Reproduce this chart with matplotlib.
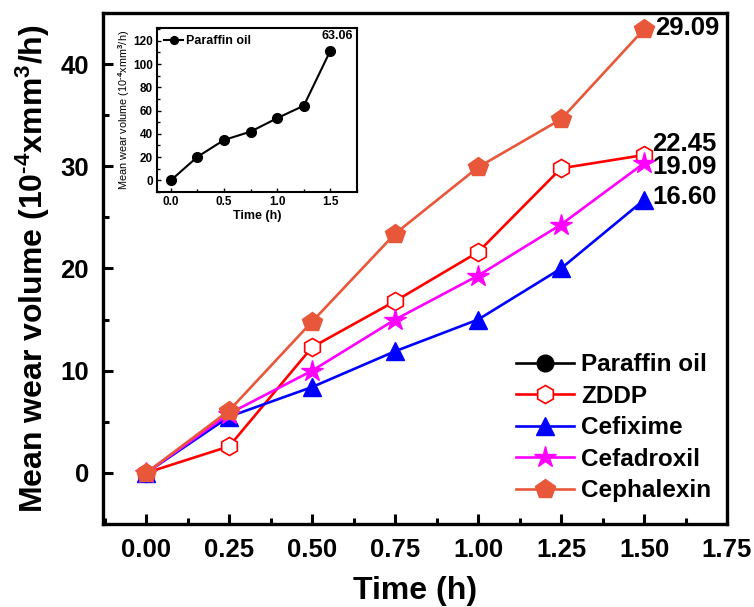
import matplotlib
matplotlib.use("Agg")
import matplotlib.pyplot as plt
from matplotlib.lines import Line2D
from matplotlib.ticker import MultipleLocator

plt.rcParams['font.family'] = ['Liberation Sans', 'DejaVu Sans']
plt.rcParams['mathtext.fontset'] = 'custom'
plt.rcParams['mathtext.rm'] = 'Liberation Sans:bold'
plt.rcParams['mathtext.bf'] = 'Liberation Sans:bold'
plt.rcParams['mathtext.it'] = 'Liberation Sans:bold:italic'
plt.rcParams['mathtext.sf'] = 'Liberation Sans:bold'

time = [0.0, 0.25, 0.5, 0.75, 1.0, 1.25, 1.5]
zddp = [0.0, 2.6, 12.3, 16.8, 21.6, 29.8, 31.1]
cefixime = [0.0, 5.5, 8.4, 11.9, 15.0, 20.0, 26.7]
cefadroxil = [0.0, 5.8, 10.0, 15.0, 19.3, 24.3, 30.3]
cephalexin = [0.0, 6.1, 14.8, 23.4, 29.9, 34.6, 43.4]
paraffin = [0.0, 20.2, 34.7, 41.9, 53.5, 64.2, 111.6]

end_labels = {"29.09": cephalexin[-1], "22.45": zddp[-1], "19.09": cefadroxil[-1], "16.60": cefixime[-1]}
end_offsets = {"29.09": (0.033, 0.1), "22.45": (0.024, 1.1), "19.09": (0.024, -0.35), "16.60": (0.024, 0.3)}
paraffin_label = "63.06"

fig = plt.figure(figsize=(7.54, 6.07), dpi=100)
ax = fig.add_axes([0.1366, 0.1367, 0.8276, 0.842])

lw = 1.9
ax.plot(time, zddp, color='#FF0000', lw=lw, marker='h', ms=13, mfc='white', mec='#FF0000', mew=1.2, label='ZDDP', zorder=3)
ax.plot(time, cefixime, color='#0000FF', lw=lw, marker='^', ms=13, mfc='#0000FF', mec='#0000FF', label='Cefixime', zorder=3)
ax.plot(time, cefadroxil, color='#FF00FF', lw=lw, marker='*', ms=16, mfc='#FF00FF', mec='#FF00FF', label='Cefadroxil', zorder=3)
ax.plot(time, cephalexin, color='#E8573A', lw=lw, marker='p', ms=15, mfc='#E8573A', mec='#E8573A', label='Cephalexin', zorder=4)

ax.set_xlim(-0.13, 1.75)
ax.set_ylim(-5, 45)
ax.xaxis.set_major_locator(MultipleLocator(0.25))
ax.xaxis.set_minor_locator(MultipleLocator(0.125))
ax.yaxis.set_major_locator(MultipleLocator(10))
ax.yaxis.set_minor_locator(MultipleLocator(5))
ax.set_xticks([0.0, 0.25, 0.5, 0.75, 1.0, 1.25, 1.5, 1.75])
ax.set_xticklabels(['0.00', '0.25', '0.50', '0.75', '1.00', '1.25', '1.50', '1.75'])
ax.tick_params(which='major', direction='in', length=7, width=2.2, labelsize=18.5, pad=10)
ax.tick_params(which='minor', direction='in', length=4, width=2.2)
for lab in ax.get_xticklabels() + ax.get_yticklabels():
    lab.set_fontweight('bold')
for s in ax.spines.values():
    s.set_linewidth(2.4)
ax.set_xlabel('Time (h)', fontsize=23, fontweight='bold', labelpad=10)
ax.set_ylabel('Mean wear volume (10$^{\\text{-4}}$xmm$^{3}$/h)', fontsize=23, fontweight='bold', labelpad=6)

for txt, yv in end_labels.items():
    dx, dy = end_offsets[txt]
    ax.text(time[-1] + dx, yv + dy, txt, fontsize=18.5, fontweight='bold', va='center', ha='left')

handles = [Line2D([], [], color='black', lw=lw, marker='o', ms=12, label='Paraffin oil')] + ax.get_lines()[:4]
leg = ax.legend(handles=handles, loc='lower right', bbox_to_anchor=(1.01, 0.0), frameon=False,
                prop={'size': 17.5, 'weight': 'bold'}, handlelength=2.4, handletextpad=0.3, labelspacing=0.35)

# inset
ins = fig.add_axes([0.2082, 0.6837, 0.2653, 0.2702])
ins.plot(time, paraffin, color='black', lw=1.5, marker='o', ms=7, label='Paraffin oil')
ins.set_xlim(-0.13, 1.75)
ins.set_ylim(-10, 131)
ins.xaxis.set_major_locator(MultipleLocator(0.5))
ins.xaxis.set_minor_locator(MultipleLocator(0.25))
ins.yaxis.set_major_locator(MultipleLocator(20))
ins.yaxis.set_minor_locator(MultipleLocator(10))
ins.set_yticks([0, 20, 40, 60, 80, 100, 120])
ins.tick_params(which='major', direction='in', length=3, width=1, labelsize=8.5, pad=3)
ins.tick_params(which='minor', direction='in', length=2, width=1)
for lab in ins.get_xticklabels() + ins.get_yticklabels():
    lab.set_fontweight('bold')
for s in ins.spines.values():
    s.set_linewidth(1.5)
ins.set_xlabel('Time (h)', fontsize=9, fontweight='bold', labelpad=1)
ins.set_ylabel('Mean wear volume (10$^{\\text{-4}}$xmm$^{3}$/h)', fontsize=7.8, labelpad=1)
ins.text(time[-1] + 0.06, 124, paraffin_label, fontsize=9, fontweight='bold', ha='center', va='center')
ins.legend(loc='upper left', frameon=False, prop={'size': 9, 'weight': 'bold'}, handlelength=1.5,
           handletextpad=0.2, borderaxespad=0.2, markerscale=0.8)

fig.savefig('out.png', dpi=100)
